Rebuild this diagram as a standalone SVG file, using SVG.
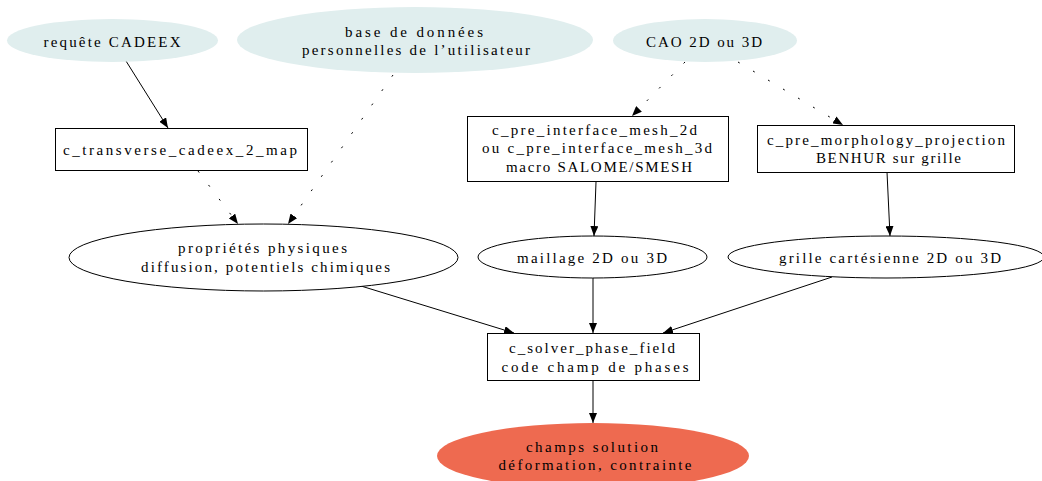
<svg xmlns="http://www.w3.org/2000/svg" width="1042" height="481" viewBox="0 0 1042 481">
  <style>
    text { font-family: 'Liberation Serif', 'Times New Roman', serif; font-size: 15px; fill: #000; text-anchor: middle; }
    .src { fill: #e0eeee; stroke: none; }
    .out { fill: #ee6a50; stroke: none; }
    .proc { fill: #fff; stroke: #000; stroke-width: 1; }
    .data { fill: #fff; stroke: #000; stroke-width: 1; }
    .edge { stroke: #000; stroke-width: 1; fill: none; marker-end: url(#arrow); }
    .dotted { stroke-dasharray: 2 15.5; }
  </style>
  <defs>
    <marker id="arrow" viewBox="0 0 10 8" refX="10" refY="4" markerWidth="10" markerHeight="8" markerUnits="userSpaceOnUse" orient="auto">
      <path d="M0,0 L10,4 L0,8 Z" fill="#000"/>
    </marker>
  </defs>
  <rect width="1042" height="481" fill="#fff"/>

  <!-- connectors -->
  <g id="edges">
    <line class="edge" x1="126" y1="61" x2="168" y2="128"/>
    <line class="edge dotted" x1="198" y1="171" x2="238" y2="224"/>
    <line class="edge dotted" x1="393" y1="75" x2="288" y2="224"/>
    <line class="edge dotted" x1="685" y1="62" x2="632" y2="116"/>
    <line class="edge dotted" x1="738" y1="62" x2="843" y2="125"/>
    <line class="edge" x1="596" y1="182" x2="594" y2="236"/>
    <line class="edge" x1="887" y1="172" x2="890" y2="236"/>
    <line class="edge" x1="361" y1="286" x2="514" y2="333"/>
    <line class="edge" x1="593" y1="278" x2="593" y2="333"/>
    <line class="edge" x1="832" y1="277" x2="663" y2="333"/>
    <line class="edge" x1="593" y1="381" x2="593" y2="423"/>
  </g>

  <!-- input sources -->
  <g id="requete">
    <ellipse class="src" cx="112.5" cy="40.5" rx="105.5" ry="21.5"/>
    <text x="112" y="46.5" textLength="137" lengthAdjust="spacing">requête CADEEX</text>
  </g>
  <g id="base">
    <ellipse class="src" cx="415" cy="40" rx="178" ry="33"/>
    <text x="414" y="37" textLength="138" lengthAdjust="spacing">base de données</text>
    <text x="416" y="55" textLength="228" lengthAdjust="spacing">personnelles de l’utilisateur</text>
  </g>
  <g id="cao">
    <ellipse class="src" cx="705" cy="40.5" rx="92" ry="21.5"/>
    <text x="704" y="46.5" textLength="116" lengthAdjust="spacing">CAO 2D ou 3D</text>
  </g>

  <!-- preprocessing -->
  <g id="transverse">
    <rect class="proc" x="55.5" y="128.5" width="252" height="42"/>
    <text x="180" y="155" textLength="234" lengthAdjust="spacing">c_transverse_cadeex_2_map</text>
  </g>
  <g id="interface">
    <rect class="proc" x="467.5" y="116.5" width="261" height="65"/>
    <text x="594.5" y="135" textLength="205" lengthAdjust="spacing">c_pre_interface_mesh_2d</text>
    <text x="597" y="153" textLength="230" lengthAdjust="spacing">ou c_pre_interface_mesh_3d</text>
    <text x="599" y="172" textLength="186" lengthAdjust="spacing">macro SALOME/SMESH</text>
  </g>
  <g id="morphology">
    <rect class="proc" x="757.5" y="125.5" width="257" height="47"/>
    <text x="886" y="145" textLength="238" lengthAdjust="spacing">c_pre_morphology_projection</text>
    <text x="888.5" y="163" textLength="145" lengthAdjust="spacing">BENHUR sur grille</text>
  </g>

  <!-- intermediate data -->
  <g id="proprietes">
    <ellipse class="data" cx="263.5" cy="257.5" rx="194.5" ry="33.5"/>
    <text x="262.5" y="253" textLength="169" lengthAdjust="spacing">propriétés physiques</text>
    <text x="265.5" y="272" textLength="249" lengthAdjust="spacing">diffusion, potentiels chimiques</text>
  </g>
  <g id="maillage">
    <ellipse class="data" cx="592.5" cy="257" rx="114.5" ry="21"/>
    <text x="592" y="263" textLength="150" lengthAdjust="spacing">maillage 2D ou 3D</text>
  </g>
  <g id="grille">
    <ellipse class="data" cx="886" cy="257" rx="158" ry="21"/>
    <text x="890" y="263" textLength="222" lengthAdjust="spacing">grille cartésienne 2D ou 3D</text>
  </g>

  <!-- solver -->
  <g id="solver">
    <rect class="proc" x="487.5" y="333.5" width="212" height="47"/>
    <text x="592" y="353" textLength="166" lengthAdjust="spacing">c_solver_phase_field</text>
    <text x="595" y="372" textLength="187" lengthAdjust="spacing">code champ de phases</text>
  </g>

  <!-- result -->
  <g id="champs">
    <ellipse class="out" cx="593" cy="456" rx="156" ry="33"/>
    <text x="592" y="452" textLength="132" lengthAdjust="spacing">champs solution</text>
    <text x="595" y="470" textLength="193" lengthAdjust="spacing">déformation, contrainte</text>
  </g>
</svg>
